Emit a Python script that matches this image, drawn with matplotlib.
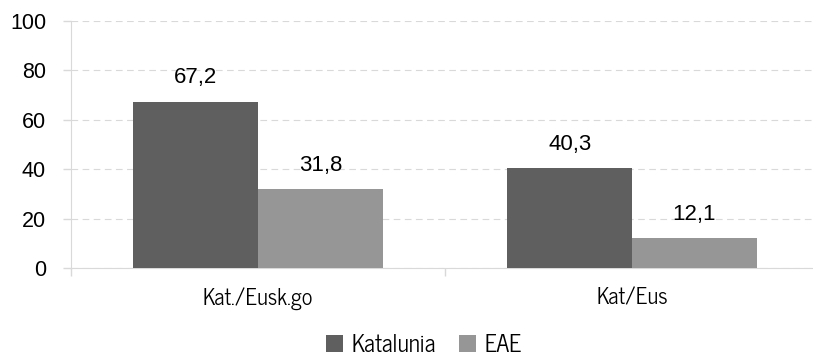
import numpy as np
import matplotlib
matplotlib.use("Agg")
import matplotlib.pyplot as plt

categories = ["Kat./Eusk.go", "Kat/Eus"]
series_names = ["Katalunia", "EAE"]
katalunia = [67.2, 40.3]
eae = [31.8, 12.1]

colors = ["#5f5f5f", "#969696"]
narrow = ["News Cycle", "DejaVu Sans"]
num_font = ["Liberation Sans", "DejaVu Sans"]

fig = plt.figure(figsize=(8.13, 3.59), dpi=100)
ax = fig.add_axes([71 / 813, 91 / 359, 748 / 813, 247 / 359])

x = np.arange(len(categories))
w = 1 / 3
for i, (vals, name) in enumerate(zip([katalunia, eae], series_names)):
    pos = x - w / 2 + i * w
    ax.bar(pos, vals, width=w, color=colors[i], label=name, zorder=3)
    for p, v in zip(pos, vals):
        ax.text(p, v + 5.5, f"{v:.1f}".replace(".", ","), ha="center", va="bottom",
                fontsize=16, family=num_font, color="#000000")

ax.set_ylim(0, 100)
ax.set_xlim(-0.5, 1.5)
ax.set_yticks(range(0, 101, 20))
ax.set_yticklabels([str(t) for t in range(0, 101, 20)], family=num_font, fontsize=15.5)
ax.yaxis.grid(True, color="#d9d9d9", linestyle=(0, (6, 4)), linewidth=0.8, zorder=0)
ax.set_axisbelow(True)

# category boundaries as ticks, labels as minor ticks
ax.set_xticks([-0.5, 0.5, 1.5])
ax.set_xticklabels([])
ax.set_xticks(x, minor=True)
ax.set_xticklabels(categories, minor=True, family=narrow, fontsize=16)
ax.tick_params(axis="x", which="minor", length=0, pad=14)
ax.tick_params(axis="x", which="major", length=6, color="#d9d9d9", width=1)
ax.tick_params(axis="y", length=6, color="#d9d9d9", width=1, pad=12)

for s in ["top", "right"]:
    ax.spines[s].set_visible(False)
ax.spines["left"].set_color("#d9d9d9")
ax.spines["bottom"].set_color("#d9d9d9")

fig.legend(loc="center", bbox_to_anchor=(424 / 813, 14 / 359), ncol=2, frameon=False,
           prop={"family": narrow, "size": 17}, handlelength=0.7, handleheight=0.7,
           handletextpad=0.35, columnspacing=1.0, borderpad=0.2)

fig.savefig("out.png", dpi=100)
